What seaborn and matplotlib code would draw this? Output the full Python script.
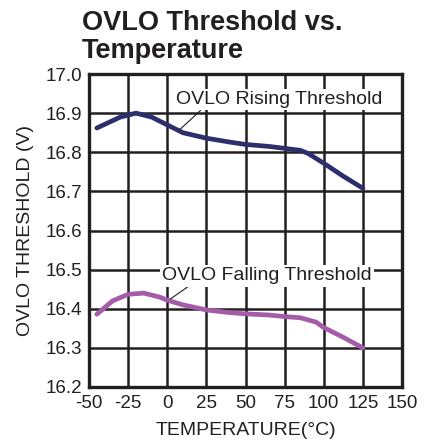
import numpy as np
import pandas as pd
import seaborn as sns
import matplotlib.pyplot as plt

# values
temp_rise = [-45, -30, -20, -10, 0, 10, 25, 40, 50, 65, 75, 85, 90, 100, 112, 125]
ovlo_rise = [16.862, 16.89, 16.90, 16.89, 16.87, 16.85, 16.836, 16.826, 16.82, 16.815, 16.81, 16.805, 16.797, 16.772, 16.74, 16.708]
temp_fall = [-45, -35, -25, -15, -5, 0, 10, 25, 40, 50, 65, 75, 85, 95, 100, 112, 125]
ovlo_fall = [16.386, 16.42, 16.437, 16.44, 16.43, 16.422, 16.41, 16.397, 16.39, 16.387, 16.384, 16.38, 16.377, 16.366, 16.352, 16.328, 16.30]

x_ticks = [-50, -25, 0, 25, 50, 75, 100, 125, 150]
y_ticks = [16.2, 16.3, 16.4, 16.5, 16.6, 16.7, 16.8, 16.9, 17.0]

rise = pd.DataFrame({'temp': temp_rise, 'v': ovlo_rise})
fall = pd.DataFrame({'temp': temp_fall, 'v': ovlo_fall})

sns.set_style("white")
plt.rcParams['font.family'] = ['Liberation Sans', 'DejaVu Sans']
plt.rcParams['axes.unicode_minus'] = False

ink = '#231f20'
fig = plt.figure(figsize=(4.25, 4.46), dpi=100)
ax = fig.add_axes([0.2094, 0.1323, 0.7365, 0.7017])
ax.set_axisbelow(True)

sns.lineplot(data=rise, x='temp', y='v', ax=ax, color='#2c2f6b', lw=3.4, zorder=3)
sns.lineplot(data=fall, x='temp', y='v', ax=ax, color='#a45ba8', lw=3.4, zorder=3)

ax.set_xlim(-50, 150)
ax.set_ylim(16.2, 17.0)
ax.set_xticks(x_ticks)
ax.set_xticklabels([str(t) for t in x_ticks])
ax.set_yticks(y_ticks)
ax.set_yticklabels([f'{v:.1f}' for v in y_ticks])
ax.tick_params(length=0, labelsize=13.5, colors=ink)
ax.tick_params(axis='x', pad=6)
ax.tick_params(axis='y', pad=5)
ax.grid(True, color=ink, lw=1.8)
for s in ax.spines.values():
    s.set_color(ink)
    s.set_linewidth(2.4)

ax.set_xlabel('TEMPERATURE(°C)', fontsize=14, color=ink)
ax.set_ylabel('OVLO THRESHOLD (V)', fontsize=14, color=ink)
ax.xaxis.set_label_coords(0.5, -0.112)
ax.yaxis.set_label_coords(-0.175, 0.5)

fig.text(0.193, 1 - 30 / 446, 'OVLO Threshold vs.', fontsize=19.5, fontweight='bold',
         color=ink, va='baseline', ha='left')
fig.text(0.193, 1 - 58 / 446, 'Temperature', fontsize=19.5, fontweight='bold',
         color=ink, va='baseline', ha='left')

box = dict(facecolor='white', edgecolor='none', pad=1.5)
ax.annotate('OVLO Rising Threshold', xy=(8, 16.858), xytext=(5.6, 16.934),
            fontsize=14, color=ink, bbox=box, va='center', ha='left', zorder=4,
            arrowprops=dict(arrowstyle='-', color=ink, lw=0.8, shrinkA=0, shrinkB=0,
                            relpos=(0.13, 0)))
ax.annotate('OVLO Falling Threshold', xy=(2, 16.425), xytext=(-3.4, 16.484),
            fontsize=14, color=ink, bbox=box, va='center', ha='left', zorder=4,
            arrowprops=dict(arrowstyle='-', color=ink, lw=0.8, shrinkA=0, shrinkB=0,
                            relpos=(0.14, 0)))

fig.savefig('out.png', dpi=100)
